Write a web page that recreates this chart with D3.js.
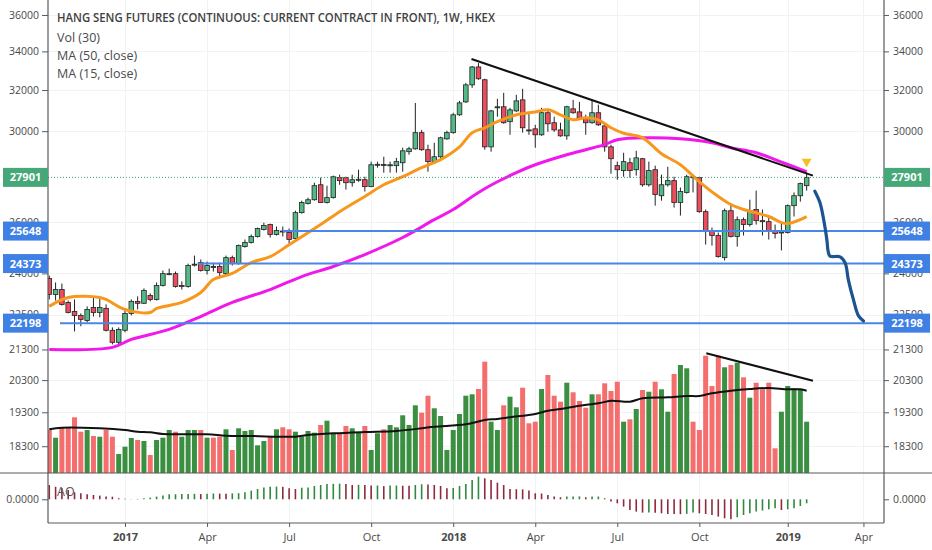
<!DOCTYPE html>
<html>
<head>
<meta charset="utf-8">
<script src="https://cdn.jsdelivr.net/npm/d3@7"></script>
<style>
body { margin: 0; background: #fff; }
svg { display: block; font-family: "Open Sans", sans-serif; }
</style>
</head>
<body>
<script>
var w = 932, h = 550;

// weekly bars, first one dated Mon 10 Oct 2016
var firstWeek = new Date(2016, 9, 10);
var opens = [23810,23220,23400,22930,22610,22470,22290,22750,22570,22720,
  21950,21540,21950,22540,22970,22900,23180,23040,23550,23960,
  23990,23510,23510,24330,24410,24110,24260,24260,23990,24600,
  24370,25030,25190,25430,25710,25910,25510,25650,25590,25350,
  26400,26780,26940,27580,26820,27030,27890,27890,27670,27800,
  27800,27500,28460,28470,28440,28420,28550,29050,29180,29930,
  29140,28600,28820,29640,29930,30780,31410,32260,33180,32520,
  29270,31120,31170,30450,30970,31510,30060,30110,29830,30880,
  30400,30060,29780,31070,30920,30640,30400,30880,30250,29270,
  28420,28200,28550,28240,28730,27580,28240,27110,27580,27760,
  26820,27250,27930,27890,26440,25670,25470,24600,26480,25430,
  26110,25910,26530,26070,26030,25670,25590,25590,26690,27110,
  27540];
var highs = [23920,23660,23620,23000,23040,22540,22790,23110,23070,22860,
  22050,22050,22640,23040,23150,23440,23260,23660,24110,24180,
  24070,23700,24370,24680,24530,24450,24410,24410,24680,24680,
  25110,25310,25510,25790,25990,25950,25830,25830,25750,26480,
  26900,27030,27670,27890,27540,27980,28020,27930,28020,28240,
  27930,28600,28600,28820,28600,28770,29230,29270,31360,30060,
  29370,29460,29740,30020,30880,31460,32360,33230,33380,32570,
  31020,31560,31860,31120,31760,32060,30920,30300,31120,30970,
  30690,30400,31220,31510,31410,30780,31510,31270,30300,29370,
  28600,29000,28770,29090,28770,28600,28420,28020,28370,27930,
  27460,28020,28020,27930,26530,25790,25590,26570,26740,26240,
  26200,26940,27330,26530,26240,25910,25950,26740,27250,27670,
  28110];
var lows = [23040,23000,22820,22540,21910,22090,22220,22430,22400,21910,
  21470,21470,21880,22470,22680,22880,22970,23000,23510,23930,
  23470,23400,23470,24260,24070,23960,24070,23810,23960,24300,
  24330,24990,25150,25390,25670,25390,25470,25430,25150,25310,
  26360,26740,26900,26800,26780,26990,27580,27370,27500,27710,
  27290,27480,28330,28110,28110,28110,28150,28910,29140,29090,
  28150,28550,28770,29600,29880,30730,31360,32110,32520,29140,
  29050,30690,30350,29830,30920,29930,29830,29230,29780,29970,
  29970,29740,29600,30830,30540,29830,30350,30250,29050,28060,
  27800,27930,27890,27980,27500,27500,26690,26900,27500,26610,
  26280,27200,27250,26400,25110,25070,24600,24490,25390,25030,
  25470,25830,25910,25470,25310,25350,24880,25550,26240,26860,
  27330];
var closes = [23220,23400,22860,22570,22470,22330,22680,22570,22750,21950,
  21540,21980,22540,22970,22900,23370,23040,23550,23990,23990,
  23510,23550,24300,24350,24110,24300,24220,24030,24600,24370,
  25070,25190,25430,25750,25870,25510,25670,25630,25310,26400,
  26820,26940,27540,26820,27030,27930,27760,27670,27800,27820,
  27500,28460,28480,28450,28460,28600,29090,29180,29930,29140,
  28600,28820,29690,29930,30780,31360,32260,33180,32570,29270,
  30970,31170,30400,31020,31460,30160,30020,29830,30880,30350,
  30060,29780,31170,30880,30640,30400,30880,30300,29270,28730,
  28240,28600,28200,28770,27580,28200,27160,27580,27760,26820,
  27290,27930,27890,26440,25670,25470,24640,26480,25430,26110,
  25910,26480,26070,26050,25670,25550,25610,26690,27110,27630,
  27901];
// volume (thousand contracts)
var volumes = [430,353,453,453,557,413,430,370,363,430,
  363,190,263,350,330,320,180,330,353,430,
  413,363,430,430,430,353,353,363,437,230,
  447,420,430,277,320,370,437,457,437,413,
  363,420,403,480,523,397,397,470,447,403,
  470,230,397,437,480,457,577,480,677,603,
  773,647,570,230,430,590,773,787,840,1113,
  513,430,677,763,657,853,497,513,840,980,
  773,713,903,807,720,653,787,787,897,820,
  913,513,537,640,830,813,913,837,613,990,
  1080,1047,513,430,1173,870,1173,1057,1080,1103,
  957,753,903,837,903,247,613,870,847,837,
  513];
// awesome oscillator
var aoVals = [14.3,12.5,11,9.3,7,6,5,4.3,3.7,2.7,
  2.6,1,0.5,0.2,0.4,1,1.7,2.7,3.7,5,
  5.1,5.2,5.4,5.5,5.3,5.6,5.8,5.7,5.6,5.9,
  6.1,7,8.7,10.3,11.7,12.6,12.7,12.5,11,10.3,
  11.6,11.7,13.3,14.3,15.2,15.5,15.6,15.3,14.3,14.5,
  14.2,13.7,13.8,13.2,13.7,13.8,13.6,13.5,14.3,15,
  14.8,14.3,13.3,11,11.3,13.3,15.3,19.3,22.7,21,
  19.3,16.7,14.3,10.3,10.1,9.9,8.7,6,5.8,4.3,
  2.7,2,2.7,2.8,2.9,2,2.7,2.8,1,-2.3,
  -4,-7.3,-10.7,-12.3,-13.3,-13.2,-13.4,-14,-14.7,-14.8,
  -14.9,-14.6,-13.3,-14,-14.7,-15.7,-17.3,-19,-20,-18,
  -15.7,-14,-12.3,-11.3,-10,-9,-10.7,-10,-9,-6.7,
  -4];

// moving averages: [week index, value]
var ma15 = [[0,22790],[3,23110],[8,23110],[9,23040],[12,22680],[16,22570],[17,22715],[21,22930],
  [24,23290],[26,23770],[29,24000],[32,24410],[35,24640],[38,25100],[43,25910],[46,26440],
  [50,27080],[53,27580],[56,27930],[59,28330],[62,28690],[65,29270],[67,29930],[69,30160],
  [71,30450],[74,30780],[77,30920],[79,31020],[81,30780],[83,30540],[85,30640],[87,30540],
  [89,30160],[91,29900],[94,29690],[97,28960],[100,28460],[103,27710],[106,27080],[108,26740],
  [110,26530],[114,26240],[116,25990],[117,25950],[119,26110],[120,26240]];
var ma50 = [[0,21300],[10,21370],[13,21640],[19,21980],[24,22430],[29,22930],[35,23400],
  [40,23880],[45,24260],[50,24720],[56,25390],[61,26110],[64,26530],[68,27250],[71,27710],
  [74,28110],[77,28460],[82,28910],[85,29140],[88,29370],[90,29600],[95,29690],[100,29640],
  [105,29460],[108,29230],[112,29000],[115,28690],[118,28370],[120,28150]];
var volMA = [[0,437],[2,453],[8,447],[12,430],[14,413],[16,407],[18,390],[25,387],[28,373],
  [32,370],[39,363],[41,380],[45,397],[50,410],[55,420],[59,447],[61,463],[66,487],[69,530],
  [71,540],[73,557],[77,590],[79,623],[81,640],[84,673],[87,697],[89,723],[92,713],[94,747],
  [98,757],[101,770],[103,770],[105,797],[108,823],[111,840],[114,850],[117,837],[119,837],[120,823]];

// drawings
var levels = [25648, 24373, 22198];
var levelStart = [37, 23.5, 1.7];
var priceTrend = [[66.9, 33600], [121.0, 27980]];
var volTrend = [[104.1, 1197], [121.0, 923]];
var forecast = [[121.3,27300],[122.1,26820],[122.7,26110],[123.2,25310],[123.4,24850],
  [123.7,24660],[125.3,24630],[126.1,24400],[126.6,23770],[127.4,23040],[128.2,22460],[129.0,22270]];

var priceTicks = [36000,34000,32000,30000,26000,24000,22500,21300,20300,19300,18300];
var tickDates = [new Date(2017,0,2), new Date(2017,3,3), new Date(2017,6,3), new Date(2017,9,2),
  new Date(2018,0,1), new Date(2018,3,2), new Date(2018,6,2), new Date(2018,9,1),
  new Date(2019,0,7), new Date(2019,3,1)];
var tickLabels = ["2017","Apr","Jul","Oct","2018","Apr","Jul","Oct","2019","Apr"];
var legend = ["Vol (30)", "MA (50, close)", "MA (15, close)"];
var title = "HANG SENG FUTURES (CONTINUOUS: CURRENT CONTRACT IN FRONT), 1W, HKEX";

var left = 48, right = 884, paneBottom = 473, aoBottom = 523;
var upCol = "#53b987", downCol = "#eb4d5c";

function weekDate(i) { return new Date(firstWeek.getTime() + i * 7 * 864e5); }

var x = d3.scaleTime()
  .domain([new Date(2016, 9, 8, 14), new Date(2019, 3, 23, 19)])
  .range([left, right]);
var y = d3.scaleLog().domain([17547, 36855]).range([paneBottom, 0]);
var yVol = d3.scaleLinear().domain([0, 1200]).range([paneBottom, paneBottom - 120]);
var yAo = d3.scaleLinear().domain([-23.7, 26.3]).range([aoBottom, paneBottom]);

var svg = d3.select("body").append("svg")
  .attr("width", w)
  .attr("height", h);

svg.append("clipPath").attr("id", "main")
  .append("rect").attr("x", left).attr("y", 0).attr("width", right - left).attr("height", paneBottom);

// grid
var grid = svg.append("g").attr("stroke", "#f1f2f4").attr("stroke-width", 1);
grid.selectAll(".hg").data(priceTicks).enter().append("line")
  .attr("x1", left).attr("x2", right)
  .attr("y1", function(d){ return Math.round(y(d)) + 0.5; })
  .attr("y2", function(d){ return Math.round(y(d)) + 0.5; });
grid.selectAll(".vg").data(tickDates).enter().append("line")
  .attr("x1", function(d){ return Math.round(x(d)) + 0.5; })
  .attr("x2", function(d){ return Math.round(x(d)) + 0.5; })
  .attr("y1", 0).attr("y2", aoBottom);

var main = svg.append("g").attr("clip-path", "url(#main)");
var idx = d3.range(opens.length);

// volume
main.selectAll(".vol").data(idx).enter().append("rect")
  .attr("x", function(i){ return x(weekDate(i)) - 2.5; })
  .attr("y", function(i){ return yVol(volumes[i]); })
  .attr("width", 5)
  .attr("height", function(i){ return paneBottom - yVol(volumes[i]); })
  .style("fill", function(i){ return closes[i] >= opens[i] ? "#3b8f41" : "#f46e6e"; });

var lineIdx = function(yy) {
  return d3.line()
    .x(function(d){ return x(weekDate(d[0])); })
    .y(function(d){ return yy(d[1]); })
    .curve(d3.curveCatmullRom);
};

main.append("path").datum(volMA)
  .attr("d", lineIdx(yVol))
  .style("fill", "none").style("stroke", "#111").style("stroke-width", 2);

// candles
var candle = main.selectAll(".candle").data(idx).enter().append("g");
candle.append("line")
  .attr("x1", function(i){ return x(weekDate(i)); })
  .attr("x2", function(i){ return x(weekDate(i)); })
  .attr("y1", function(i){ return y(highs[i]); })
  .attr("y2", function(i){ return y(lows[i]); })
  .style("stroke", "#222").style("stroke-width", 1);
candle.append("rect")
  .attr("x", function(i){ return x(weekDate(i)) - 2.3; })
  .attr("y", function(i){ return y(Math.max(opens[i], closes[i])); })
  .attr("width", 4.6)
  .attr("height", function(i){ return Math.max(1, Math.abs(y(opens[i]) - y(closes[i]))); })
  .style("fill", function(i){ return closes[i] >= opens[i] ? upCol : downCol; })
  .style("stroke", "#222").style("stroke-width", 0.8);

// moving averages
main.append("path").datum(ma50)
  .attr("d", lineIdx(y))
  .style("fill", "none").style("stroke", "#f018ea").style("stroke-width", 3);
main.append("path").datum(ma15)
  .attr("d", lineIdx(y))
  .style("fill", "none").style("stroke", "#f7981d").style("stroke-width", 3);

// horizontal levels
main.selectAll(".lvl").data(levels).enter().append("line")
  .attr("x1", function(d, i){ return x(weekDate(levelStart[i])); })
  .attr("x2", right)
  .attr("y1", function(d){ return y(d); })
  .attr("y2", function(d){ return y(d); })
  .style("stroke", "#4a86e8").style("stroke-width", 2);

// current price line
main.append("line")
  .attr("x1", left).attr("x2", right)
  .attr("y1", y(closes[closes.length - 1])).attr("y2", y(closes[closes.length - 1]))
  .style("stroke", "#3aa272").style("stroke-width", 1).style("stroke-dasharray", "1,2");

// trend lines
main.append("path").datum(priceTrend)
  .attr("d", d3.line().x(function(d){ return x(weekDate(d[0])); }).y(function(d){ return y(d[1]); }))
  .style("stroke", "#111").style("stroke-width", 2);
main.append("path").datum(volTrend)
  .attr("d", d3.line().x(function(d){ return x(weekDate(d[0])); }).y(function(d){ return yVol(d[1]); }))
  .style("stroke", "#111").style("stroke-width", 2);

// projected path
main.append("path").datum(forecast)
  .attr("d", lineIdx(y))
  .style("fill", "none").style("stroke", "#1d5391").style("stroke-width", 3.2)
  .style("stroke-linecap", "round").style("stroke-linejoin", "round");

// marker over the last bar
var last = opens.length - 1;
main.append("path")
  .attr("d", d3.symbol(d3.symbolTriangle, 42))
  .attr("transform", "translate(" + x(weekDate(last)) + "," + (y(highs[last]) - 11) + ") rotate(180)")
  .style("fill", "#f2c21b");

// AO pane
svg.append("g").selectAll("line").data(idx).enter().append("line")
  .attr("x1", function(i){ return x(weekDate(i)); })
  .attr("x2", function(i){ return x(weekDate(i)); })
  .attr("y1", yAo(0))
  .attr("y2", function(i){ return yAo(aoVals[i]); })
  .style("stroke", function(i){ return (i > 0 && aoVals[i] >= aoVals[i - 1]) ? "#2f8a3d" : "#8d2a3e"; })
  .style("stroke-width", 1.6);

svg.append("text").attr("x", 57).attr("y", 496)
  .style("font-size", "12.5px").style("fill", "#555").text("AO");

// frame
var frame = svg.append("g").style("stroke", "#5a5a5a").style("stroke-width", 1.2);
frame.append("line").attr("x1", left).attr("x2", left).attr("y1", 0).attr("y2", aoBottom);
frame.append("line").attr("x1", right).attr("x2", right).attr("y1", 0).attr("y2", aoBottom);
frame.append("line").attr("x1", 0).attr("x2", w).attr("y1", paneBottom).attr("y2", paneBottom);
frame.append("line").attr("x1", left).attr("x2", right).attr("y1", aoBottom).attr("y2", aoBottom);

// axes
function styleAxis(g) {
  g.select(".domain").remove();
  g.selectAll("line").attr("stroke", "#5a5a5a");
  g.selectAll("text").attr("fill", "#4a4a4a")
    .style("font-family", "\"Open Sans\", sans-serif").style("font-size", "10.5px");
}
svg.append("g").attr("transform", "translate(" + left + ",0)")
  .call(d3.axisLeft(y).tickValues(priceTicks).tickFormat(d3.format("d")).tickSize(6).tickPadding(3))
  .call(styleAxis);
svg.append("g").attr("transform", "translate(" + right + ",0)")
  .call(d3.axisRight(y).tickValues(priceTicks).tickFormat(d3.format("d")).tickSize(5).tickPadding(4))
  .call(styleAxis);
svg.append("g").attr("transform", "translate(" + left + ",0)")
  .call(d3.axisLeft(yAo).tickValues([0]).tickFormat(d3.format(".4f")).tickSize(6).tickPadding(3))
  .call(styleAxis);
svg.append("g").attr("transform", "translate(" + right + ",0)")
  .call(d3.axisRight(yAo).tickValues([0]).tickFormat(d3.format(".4f")).tickSize(5).tickPadding(4))
  .call(styleAxis);
var xa = svg.append("g").attr("transform", "translate(0," + aoBottom + ")")
  .call(d3.axisBottom(x).tickValues(tickDates).tickFormat(function(d, i){ return tickLabels[i]; }).tickSize(4).tickPadding(6))
  .call(styleAxis);
xa.selectAll("text")
  .style("font-size", "11px")
  .style("font-weight", function(d, i){ return /^\d/.test(tickLabels[i]) ? "bold" : "normal"; });

// price labels on both scales
var tags = levels.map(function(d){ return { v: d, c: "#3f80e4" }; });
tags.unshift({ v: closes[last], c: "#46a878" });
tags.forEach(function(t) {
  var yy = y(t.v);
  [[3, 45], [right, 46]].forEach(function(p) {
    svg.append("rect").attr("x", p[0]).attr("y", yy - 9.5).attr("width", p[1]).attr("height", 19)
      .style("fill", t.c);
    svg.append("text").attr("x", p[0] + p[1] / 2).attr("y", yy + 4)
      .attr("text-anchor", "middle")
      .style("font-size", "11px").style("font-weight", "bold").style("fill", "#fff")
      .text(t.v);
  });
});

// legend
svg.append("text").attr("x", 57).attr("y", 22)
  .attr("textLength", 438).attr("lengthAdjust", "spacingAndGlyphs")
  .style("font-size", "12.5px").style("font-weight", 600).style("fill", "#3f3f3f")
  .text(title);
svg.selectAll(".leg").data(legend).enter().append("text")
  .attr("x", 57)
  .attr("y", function(d, i){ return 41.5 + i * 18.3; })
  .style("font-size", "12.5px").style("font-weight", "normal").style("fill", "#4a4a4a")
  .text(function(d){ return d; });
</script>
</body>
</html>
